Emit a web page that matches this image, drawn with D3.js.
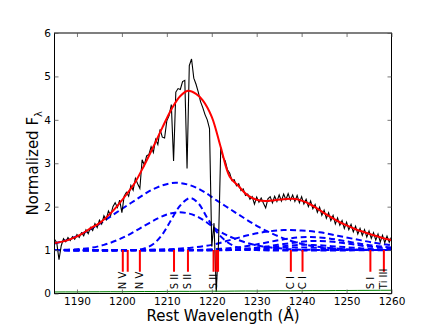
<!DOCTYPE html>
<html>
<head>
<meta charset="utf-8">
<script src="https://cdn.jsdelivr.net/npm/d3@7"></script>
<style>
  body { margin: 0; background: #fff; }
  svg { display: block; font-family: 'DejaVu Sans', sans-serif; }
</style>
</head>
<body>
<div id="chart"></div>
<script>
// ---- values ----
const xTicks = [1190, 1200, 1210, 1220, 1230, 1240, 1250, 1260];
const yTicks = [0, 1, 2, 3, 4, 5, 6];

// observed spectrum, 0.5 A grid from 1185 A
const specStart = 1185;
const specStep = 0.5;
const specFlux = [
  1.25, 1.17, 0.78, 1.10, 1.26, 1.19, 1.29, 1.22, 1.31, 1.25,
  1.36, 1.29, 1.40, 1.33, 1.47, 1.38, 1.52, 1.45, 1.61, 1.52,
  1.69, 1.60, 1.79, 1.70, 1.90, 1.80, 2.00, 2.09, 1.98, 2.15,
  1.86, 2.24, 2.33, 2.24, 2.49, 2.38, 2.65, 2.53, 2.42, 3.08,
  2.96, 3.17, 3.20, 3.38, 3.25, 3.55, 3.43, 3.78, 3.60, 3.58,
  3.98, 4.10, 4.35, 3.05, 4.64, 4.72, 4.70, 4.88, 4.91, 2.88,
  5.25, 5.40, 4.96, 4.82, 4.64, 4.42, 4.28, 4.12, 4.00, 3.80,
  1.08, 1.62, 0.04, 1.15, 3.36, 3.14, 3.05, 2.85, 2.77, 2.60,
  2.62, 2.48, 2.53, 2.37, 2.41, 2.26, 2.29, 2.17, 2.23, 2.06,
  2.22, 2.10, 2.20, 2.08, 1.97, 2.18, 2.23, 2.09, 2.24, 2.12,
  2.27, 2.13, 2.29, 2.16, 2.30, 2.15, 2.27, 2.12, 2.26, 2.09,
  2.23, 2.06, 2.17, 2.00, 2.13, 1.95, 2.05, 1.87, 1.99, 1.80,
  1.92, 1.73, 1.86, 1.68, 1.80, 1.60, 1.74, 1.57, 1.68, 1.50,
  1.64, 1.47, 1.59, 1.42, 1.55, 1.37, 1.50, 1.34, 1.47, 1.30,
  1.44, 1.27, 1.40, 1.23, 1.37, 1.19, 1.34, 1.17, 1.32, 1.18,
  1.30
];

// total fit (red)
const fitCurve = [
  [1185, 1.16], [1187, 1.20], [1189, 1.27], [1191, 1.37], [1193, 1.50],
  [1195, 1.62], [1197, 1.80], [1199, 2.02], [1201, 2.28], [1203, 2.57],
  [1205, 2.96], [1207, 3.38], [1209, 3.82], [1211, 4.24], [1213, 4.55],
  [1214.7, 4.67], [1216.5, 4.60], [1218, 4.45], [1220, 4.07], [1222, 3.37],
  [1224, 2.69], [1226, 2.47], [1228, 2.26], [1230, 2.16], [1232, 2.13],
  [1234, 2.15], [1236, 2.17], [1238, 2.18], [1240, 2.14], [1242, 2.05],
  [1244, 1.92], [1246, 1.79], [1248, 1.67], [1250, 1.57], [1252, 1.48],
  [1254, 1.41], [1256, 1.34], [1258, 1.28], [1260, 1.23]
];

// individual components (blue dashed)
const continuum = [[1185, 1.0], [1260, 1.0]];
const compBroad = [
  [1185, 1.15], [1188, 1.24], [1191, 1.37], [1194, 1.54], [1197, 1.74],
  [1200, 1.95], [1203, 2.15], [1206, 2.35], [1209, 2.49], [1212, 2.55],
  [1215, 2.50], [1218, 2.36], [1221, 2.15], [1224, 1.95], [1227, 1.75],
  [1230, 1.56], [1233, 1.40], [1236, 1.27], [1239, 1.17], [1242, 1.10],
  [1246, 1.05], [1250, 1.02], [1255, 1.005], [1260, 1.0]
];
const compMid = [
  [1185, 1.0], [1190, 1.02], [1193, 1.05], [1196, 1.12], [1199, 1.23],
  [1202, 1.38], [1205, 1.56], [1208, 1.73], [1210, 1.82], [1212.5, 1.87],
  [1215, 1.84], [1217, 1.76], [1219, 1.63], [1221, 1.48], [1223, 1.36],
  [1225, 1.27], [1228, 1.16], [1231, 1.09], [1235, 1.04], [1240, 1.01],
  [1260, 1.0]
];
const compNarrow = [
  [1185, 1.0], [1203, 1.0], [1205, 1.04], [1207, 1.14], [1209, 1.36],
  [1211, 1.70], [1213, 2.03], [1215.2, 2.20], [1217, 2.08], [1219, 1.74],
  [1221, 1.43], [1223, 1.22], [1225, 1.09], [1227, 1.03], [1230, 1.0],
  [1260, 1.0]
];
const compRed1 = [
  [1185, 1.0], [1200, 1.0], [1210, 1.02], [1215, 1.05], [1220, 1.12],
  [1224, 1.23], [1228, 1.34], [1232, 1.42], [1236, 1.46], [1240, 1.45],
  [1244, 1.41], [1248, 1.33], [1252, 1.25], [1256, 1.17], [1260, 1.11]
];
const compRed2 = [
  [1185, 1.0], [1215, 1.0], [1222, 1.03], [1227, 1.08], [1231, 1.15],
  [1235, 1.23], [1239, 1.29], [1242, 1.30], [1246, 1.27], [1250, 1.20],
  [1254, 1.13], [1257, 1.09], [1260, 1.06]
];
const compRed3 = [
  [1185, 1.0], [1220, 1.0], [1227, 1.03], [1232, 1.08], [1236, 1.14],
  [1240, 1.19], [1243, 1.21], [1247, 1.19], [1251, 1.14], [1255, 1.08],
  [1260, 1.04]
];
const compRed4 = [
  [1185, 1.0], [1222, 1.0], [1228, 1.02], [1233, 1.06], [1237, 1.10],
  [1240, 1.12], [1244, 1.11], [1248, 1.08], [1252, 1.05], [1256, 1.02],
  [1260, 1.01]
];
const compRed5 = [
  [1185, 1.0], [1225, 1.0], [1230, 1.02], [1235, 1.05], [1239, 1.06],
  [1244, 1.05], [1250, 1.02], [1255, 1.01], [1260, 1.0]
];
const components = [continuum, compBroad, compMid, compNarrow, compRed1, compRed2, compRed3, compRed4, compRed5];

// error spectrum (green)
const errCurve = [
  [1185, 0.035], [1187.5, 0.037], [1190, 0.036], [1192.5, 0.039], [1195, 0.040],
  [1197.5, 0.042], [1200, 0.041], [1202.5, 0.044], [1205, 0.046], [1207.5, 0.045],
  [1210, 0.048], [1212.5, 0.050], [1215, 0.049], [1217.5, 0.052], [1220, 0.054],
  [1222.5, 0.053], [1225, 0.056], [1227.5, 0.058], [1230, 0.057], [1232.5, 0.060],
  [1235, 0.062], [1237.5, 0.061], [1240, 0.064], [1242.5, 0.066], [1245, 0.065],
  [1247.5, 0.068], [1250, 0.069], [1252.5, 0.071], [1255, 0.072], [1257.5, 0.074],
  [1260, 0.075]
];

// absorption line markers
const lineWave = [1200.2, 1201.3, 1204.0, 1211.6, 1214.7, 1220.4, 1221.0, 1221.4, 1237.6, 1240.2, 1255.3, 1258.3];
const lineName = ['N V', '', 'N V', 'S II', 'S II', 'S II', '', '', 'C I', 'C I', 'S I', 'Ti III'];

// ---- drawing ----
const width = 436;
const height = 327;
const margin = { top: 33, right: 44.5, bottom: 33.5, left: 54.5 };

const svg = d3.select('#chart')
  .append('svg')
  .attr('width', width)
  .attr('height', height);

const x = d3.scaleLinear().domain([1185, 1260]).range([margin.left, width - margin.right]);
const y = d3.scaleLinear().domain([0, 6]).range([height - margin.bottom, margin.top]);

svg.append('clipPath')
  .attr('id', 'plot-clip')
  .append('rect')
  .attr('x', margin.left)
  .attr('y', margin.top)
  .attr('width', width - margin.left - margin.right)
  .attr('height', height - margin.top - margin.bottom);

const plot = svg.append('g').attr('clip-path', 'url(#plot-clip)');

const smooth = d3.line()
  .x((d) => x(d[0]))
  .y((d) => y(d[1]))
  .curve(d3.curveCatmullRom.alpha(0.5));

// components
plot.selectAll('.comp')
  .data(components)
  .enter()
  .append('path')
  .attr('class', 'comp')
  .attr('d', smooth)
  .attr('fill', 'none')
  .attr('stroke', '#0000ff')
  .attr('stroke-width', 2)
  .attr('stroke-dasharray', '6,3.5');

// observed spectrum
const specLine = d3.line()
  .x((d, i) => x(specStart + i * specStep))
  .y((d) => y(d));

plot.append('path')
  .datum(specFlux)
  .attr('d', specLine)
  .attr('fill', 'none')
  .attr('stroke', '#000')
  .attr('stroke-width', 1.1);

// fit
plot.append('path')
  .datum(fitCurve)
  .attr('d', smooth)
  .attr('fill', 'none')
  .attr('stroke', '#ff0000')
  .attr('stroke-width', 2);

// error
plot.append('path')
  .datum(errCurve)
  .attr('d', d3.line().x((d) => x(d[0])).y((d) => y(d[1])))
  .attr('fill', 'none')
  .attr('stroke', '#008000')
  .attr('stroke-width', 1);

// line markers
plot.selectAll('.mark')
  .data(lineWave)
  .enter()
  .append('line')
  .attr('class', 'mark')
  .attr('x1', (d) => x(d))
  .attr('x2', (d) => x(d))
  .attr('y1', y(1.0))
  .attr('y2', y(0.5))
  .attr('stroke', '#ff0000')
  .attr('stroke-width', 2);

svg.selectAll('.mark-label')
  .data(lineWave)
  .enter()
  .append('text')
  .attr('class', 'mark-label')
  .attr('transform', (d) => `translate(${x(d)},${y(0.1)}) rotate(-90)`)
  .attr('dy', '0.35em')
  .attr('text-anchor', 'start')
  .attr('font-size', 10)
  .attr('fill', '#000')
  .text((d, i) => lineName[i]);

// frame
svg.append('rect')
  .attr('x', margin.left)
  .attr('y', margin.top)
  .attr('width', width - margin.left - margin.right)
  .attr('height', height - margin.top - margin.bottom)
  .attr('fill', 'none')
  .attr('stroke', '#000')
  .attr('stroke-width', 1);

// axes with inward ticks
const tickStyle = (g) => {
  g.select('.domain').remove();
  g.selectAll('.tick line').attr('stroke', '#555').attr('stroke-width', 0.8);
  g.selectAll('.tick text').attr('font-size', 10.5).attr('fill', '#000').attr('font-family', 'DejaVu Sans');
};

svg.append('g')
  .attr('transform', `translate(0,${height - margin.bottom})`)
  .call(d3.axisBottom(x).tickValues(xTicks).tickSize(-4).tickPadding(4).tickFormat(d3.format('d')))
  .call(tickStyle);

svg.append('g')
  .attr('transform', `translate(0,${margin.top})`)
  .call(d3.axisTop(x).tickValues(xTicks).tickSize(-4).tickFormat(''))
  .call(tickStyle);

svg.append('g')
  .attr('transform', `translate(${margin.left},0)`)
  .call(d3.axisLeft(y).tickValues(yTicks).tickSize(-4).tickPadding(3.5).tickFormat(d3.format('d')))
  .call(tickStyle);

svg.append('g')
  .attr('transform', `translate(${width - margin.right},0)`)
  .call(d3.axisRight(y).tickValues(yTicks).tickSize(-4).tickFormat(''))
  .call(tickStyle);

// axis titles
svg.append('text')
  .attr('x', (margin.left + width - margin.right) / 2)
  .attr('y', 321)
  .attr('text-anchor', 'middle')
  .attr('font-size', 15)
  .text('Rest Wavelength (Å)');

const ylab = svg.append('text')
  .attr('transform', `translate(38,${(margin.top + height - margin.bottom) / 2}) rotate(-90)`)
  .attr('text-anchor', 'middle')
  .attr('font-size', 15);
ylab.append('tspan').text('Normalized F');
ylab.append('tspan').attr('font-size', 10).attr('dy', 4).text('λ');
</script>
</body>
</html>
